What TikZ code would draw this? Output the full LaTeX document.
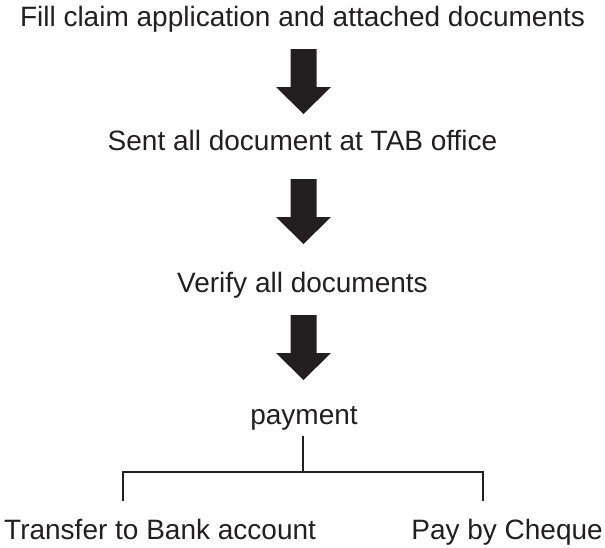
\documentclass[tikz,border=0pt]{standalone}
\usepackage{fontspec}
\setmainfont{Liberation Sans}
\definecolor{ink}{HTML}{231F20}
\begin{document}
\begin{tikzpicture}[x=1pt,y=1pt,
  label text/.style={anchor=base,inner sep=0pt,text=ink,font=\fontsize{28}{34}\selectfont},
  blockarrow/.style={fill=ink,draw=none},
  branch/.style={draw=ink,line width=2pt,line join=miter}]
\useasboundingbox (0,0) rectangle (605,-547);

% process steps
\node[label text] (t1) at (302.5,-26) {Fill claim application and attached documents};
\node[label text] (t2) at (302.5,-150) {Sent all document at TAB office};
\node[label text] (t3) at (302.5,-292) {Verify all documents};
\node[label text] (pay) at (304,-424) {payment};
\node[label text,anchor=base west] (bank) at (4,-539) {Transfer to Bank account};
\node[label text,anchor=base east] (cheque) at (603,-539) {Pay by Cheque};

% thick block arrows between the steps: x centre, top y
\newcommand\blockdown[2]{%
  \fill[blockarrow] (#1-13,#2) -- (#1+13,#2) -- (#1+13,#2-38) -- (#1+27.5,#2-38)
    -- (#1,#2-65) -- (#1-27.5,#2-38) -- (#1-13,#2-38) -- cycle;}
\blockdown{303.5}{-49}
\blockdown{303.5}{-179}
\blockdown{303.5}{-315}

% split into the two payment options
\coordinate (ptop) at (303,-436);
\coordinate (j) at (303,-472);
\coordinate (bl) at (123,-501);
\coordinate (br) at (483,-501);
\draw[branch] (ptop) -- (j);
\draw[branch] (bl) |- (j) -| (br);
\end{tikzpicture}
\end{document}
